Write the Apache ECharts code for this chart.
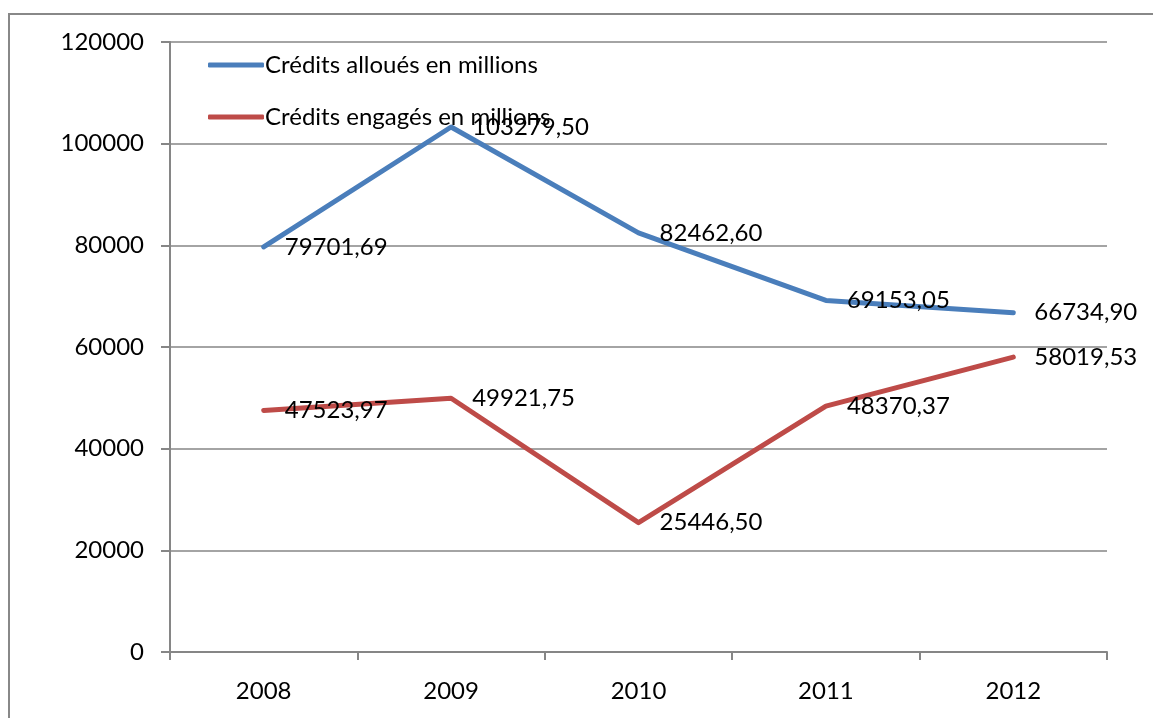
<!DOCTYPE html>
<html><head><meta charset="utf-8">
<script src="https://cdn.jsdelivr.net/npm/echarts@6/dist/echarts.min.js"></script>
<style>html,body{margin:0;padding:0;background:#fff}#c{width:1153px;height:718px}</style>
</head><body><div id="c"></div>
<script>
const categories = ['2008','2009','2010','2011','2012'];
const allocated = [79701.69, 103279.50, 82462.60, 69153.05, 66734.90];
const committed = [47523.97, 49921.75, 25446.50, 48370.37, 58019.53];
const seriesNames = ['Crédits alloués en millions', 'Crédits engagés en millions'];
const yTicks = {min: 0, max: 120000, interval: 20000};

const FONT = 'Lato';
const FS = 24;
const fmt = v => v.toFixed(2).replace('.', ',');
const chart = echarts.init(document.getElementById('c'));
const labelStyle = {show: true, position: 'right', distance: 21, color: '#000', fontFamily: FONT, fontSize: FS,
  formatter: p => fmt(p.value)};
chart.setOption({
  animation: false,
  graphic: [{type: 'rect', shape: {x: 9, y: 14, width: 1300, height: 900}, style: {fill: 'none', stroke: '#888', lineWidth: 2}, silent: true}],
  grid: {left: 170, top: 42, right: 46, bottom: 66, containLabel: false},
  legend: {
    left: 203, top: 48, orient: 'vertical', itemGap: 28, itemWidth: 56, itemHeight: 5,
    icon: 'roundRect',
    textStyle: {fontFamily: FONT, fontSize: FS, color: '#000', padding: [0, 0, 0, -4]},
    data: seriesNames.map(n => ({name: n, icon: 'roundRect'}))
  },
  xAxis: {
    type: 'category', data: categories, boundaryGap: true,
    axisLine: {lineStyle: {color: '#868686', width: 2}},
    axisTick: {show: true, length: 8, lineStyle: {color: '#868686', width: 2}},
    axisLabel: {color: '#000', fontFamily: FONT, fontSize: FS, margin: 27}
  },
  yAxis: {
    type: 'value', min: yTicks.min, max: yTicks.max, interval: yTicks.interval,
    axisLine: {show: true, lineStyle: {color: '#868686', width: 2}},
    axisTick: {show: true, length: 9, lineStyle: {color: '#868686', width: 2}},
    splitLine: {lineStyle: {color: '#868686', width: 1.5}},
    axisLabel: {color: '#000', fontFamily: FONT, fontSize: FS, margin: 26, formatter: v => String(v)}
  },
  series: [
    {name: seriesNames[0], type: 'line', data: allocated, showSymbol: true, symbol: 'circle', symbolSize: 0.1,
     lineStyle: {color: '#4A7EBB', width: 5, join: 'round', cap: 'round'}, itemStyle: {color: '#4A7EBB'},
     label: labelStyle, z: 3},
    {name: seriesNames[1], type: 'line', data: committed, showSymbol: true, symbol: 'circle', symbolSize: 0.1,
     lineStyle: {color: '#BE4B48', width: 5, join: 'round', cap: 'round'}, itemStyle: {color: '#BE4B48'},
     label: labelStyle, z: 3}
  ]
});
</script></body></html>
